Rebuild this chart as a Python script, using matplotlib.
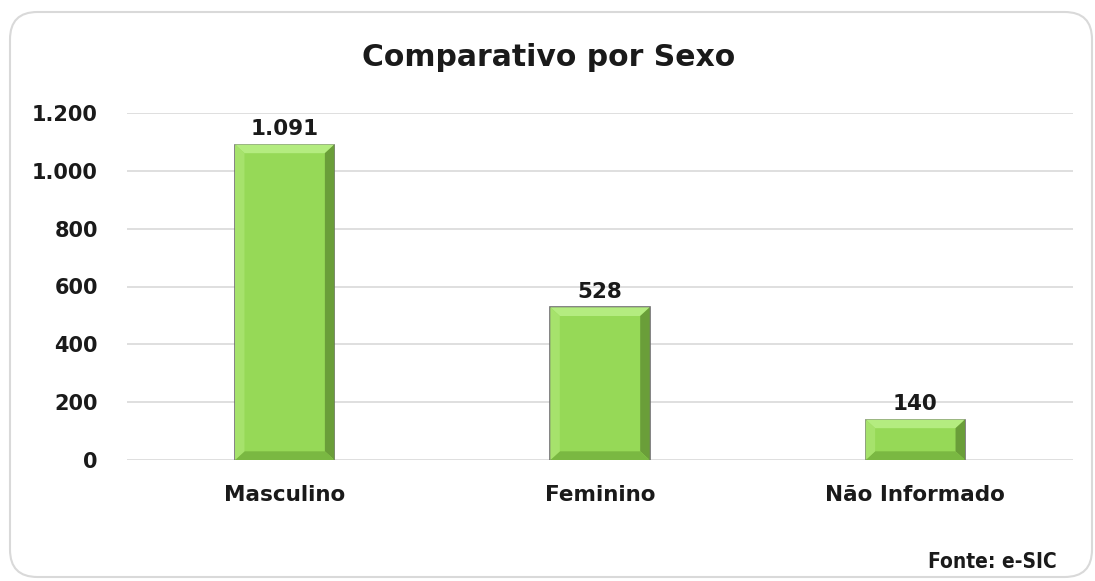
import matplotlib.pyplot as plt
from matplotlib.patches import FancyBboxPatch, Polygon

categorias = ['Masculino', 'Feminino', 'Não Informado']
valores = [1091, 528, 140]
rotulos = ['1.091', '528', '140']
ticks_y = [0, 200, 400, 600, 800, 1000, 1200]
ticks_lbl = ['0', '200', '400', '600', '800', '1.000', '1.200']

fig = plt.figure(figsize=(10.95, 5.81), dpi=100)

# moldura arredondada
moldura = FancyBboxPatch((10 / 1095, 4 / 581), 1082 / 1095, 565 / 581,
                         boxstyle='round,pad=0,rounding_size=0.025',
                         transform=fig.transFigure, facecolor='none',
                         edgecolor='#d9d9d9', linewidth=1.5,
                         mutation_aspect=1095 / 581, zorder=0)
fig.patches.append(moldura)

ax = fig.add_axes([127 / 1095, 1 - 460 / 581, 946 / 1095, 347 / 581])
ax.set_facecolor('none')
ax.set_zorder(2)

barras = ax.bar(range(len(categorias)), valores, width=0.315,
                color='#96D957', edgecolor='#6e6e6e', linewidth=1.2, zorder=3)

# efeito de chanfro
bx, by = 0.03, 30
for b in barras:
    x0, w, h = b.get_x(), b.get_width(), b.get_height()
    x1 = x0 + w
    ax.add_patch(Polygon([(x0, h), (x1, h), (x1 - bx, h - by), (x0 + bx, h - by)],
                         closed=True, facecolor='#b4ec80', edgecolor='none', zorder=4))
    ax.add_patch(Polygon([(x1, h), (x1, 0), (x1 - bx, by), (x1 - bx, h - by)],
                         closed=True, facecolor='#6a9e39', edgecolor='none', zorder=4))
    ax.add_patch(Polygon([(x0, 0), (x1, 0), (x1 - bx, by), (x0 + bx, by)],
                         closed=True, facecolor='#7ab842', edgecolor='none', zorder=4))
    ax.add_patch(Polygon([(x0, h), (x0, 0), (x0 + bx, by), (x0 + bx, h - by)],
                         closed=True, facecolor='#a6e26c', edgecolor='none', zorder=4))

for b, txt in zip(barras, rotulos):
    ax.text(b.get_x() + b.get_width() / 2, b.get_height() + 20, txt,
            ha='center', va='bottom', fontsize=15.5, fontweight='bold',
            color='#1a1a1a', zorder=5)

ax.set_xlim(-0.5, 2.5)
ax.set_ylim(0, 1200)
ax.set_yticks(ticks_y)
ax.set_yticklabels(ticks_lbl)
ax.set_xticks(range(len(categorias)))
ax.set_xticklabels(categorias)
ax.tick_params(axis='both', length=0, labelsize=15, colors='#1a1a1a')
ax.tick_params(axis='x', labelsize=15.5, pad=18)
ax.tick_params(axis='y', pad=21)
for lbl in ax.get_xticklabels() + ax.get_yticklabels():
    lbl.set_fontweight('bold')
ax.grid(axis='y', color='#d9d9d9', linewidth=1.2, zorder=0)
ax.set_axisbelow(True)
for s in ax.spines.values():
    s.set_visible(False)

fig.text(549 / 1095, 1 - 57 / 581, 'Comparativo por Sexo', ha='center', va='center',
         fontsize=21.5, fontweight='bold', color='#1a1a1a')
fig.text(1057 / 1095, 1 - 562 / 581, 'Fonte: e-SIC', ha='right', va='center',
         fontsize=15, fontweight='bold', fontstretch='condensed', color='#1a1a1a',
         family=['DejaVu Sans Condensed', 'DejaVu Sans'])

fig.savefig('out.png', dpi=100)
